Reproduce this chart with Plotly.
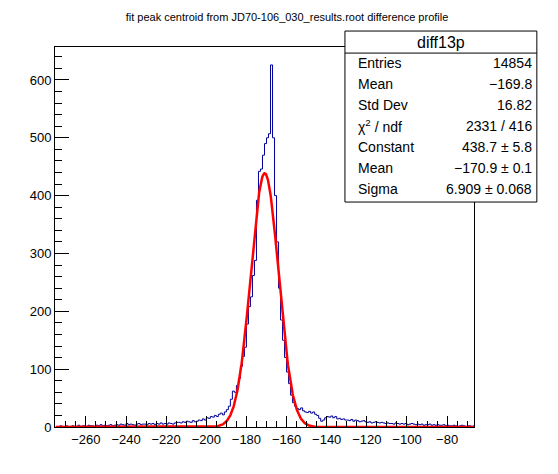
#!/usr/bin/env python3
"""
Peak centroid difference histogram (diff13p) with gaussian fit, ROOT style.
"""

import numpy as np
import plotly.graph_objects as go

# histogram binning (1 unit bins from -275 to -66)
bin_lo = -275
bin_width = 1.0

# bin contents, read bin by bin from the picture
counts_left_tail = [
    1, 0, 2, 1, 1, 2, 0, 1, 2, 1, 1, 3, 1, 2,
    2, 1, 3, 2, 2, 1, 3, 2, 4, 2, 3, 2, 3, 4, 2, 3,
    4, 3, 5, 4, 3, 6, 4, 5, 4, 3, 5, 6, 4, 5, 5, 4, 6,
    5, 6, 4, 6, 5, 7, 5, 6, 5, 7, 6, 5, 7, 8,
    8, 7, 9, 8, 10, 9, 8, 11, 9, 10, 12, 11,
    14, 12, 16, 15, 18, 17, 20, 18, 22, 24, 21, 26, 30,
]
counts_peak = [
    36, 48, 62, 60, 72, 84, 105, 122, 138, 178, 208, 225, 262, 288,
    392, 442, 446, 470, 490, 500, 507, 626, 500, 400, 320, 240, 185,
    150, 120, 95, 75, 55, 42, 36, 32,
]
counts_right_tail = [
    30, 33, 28, 26, 25, 27, 24, 26, 22, 20, 15, 10, 12, 16,
    18, 17, 19, 16, 18, 14, 15, 13, 14, 12,
    12, 11, 13, 10, 12, 11, 9, 10, 11, 9,
    8, 9, 7, 8, 9, 8, 7, 8, 7, 6,
    7, 6, 6, 5, 7, 6, 5, 6, 5, 6, 4, 5, 6, 5, 4, 5,
    4, 5, 3, 4, 4, 5, 3, 4, 3, 4, 3, 3, 4, 2,
    3, 2, 2, 3, 2, 1, 2, 3, 2, 1, 2, 2, 1, 2,
]
counts = counts_left_tail + counts_peak + counts_right_tail

# fit parameters shown in the stats box
fit_constant = 438.7
fit_mean = -170.9
fit_sigma = 6.909

stats_labels = ['Entries', 'Mean', 'Std Dev', 'χ<sup>2</sup> / ndf',
                'Constant', 'Mean', 'Sigma']
stats_values = ['14854', '−169.8', '16.82', '2331 / 416',
                '438.7 ± 5.8', '−170.9 ± 0.1', '6.909 ± 0.068']

FONT = 'Liberation Sans, Arial, Helvetica, sans-serif'


def main():
    edges = bin_lo + bin_width * np.arange(len(counts) + 1)
    step_y = counts + [counts[-1]]

    fig = go.Figure()

    # histogram outline
    fig.add_trace(go.Scatter(
        x=edges, y=step_y, mode='lines',
        line=dict(color='#000099', width=1, shape='hv'),
        showlegend=False, hoverinfo='skip'
    ))

    # gaussian fit curve
    xf = np.linspace(edges[0], edges[-1], 1200)
    yf = fit_constant * np.exp(-0.5 * ((xf - fit_mean) / fit_sigma) ** 2)
    fig.add_trace(go.Scatter(
        x=xf, y=yf, mode='lines',
        line=dict(color='#ff0000', width=2.5),
        showlegend=False, hoverinfo='skip'
    ))

    # page body adds an 8px offset, margins compensate for it
    fig.update_layout(
        width=558, height=474,
        margin=dict(l=47, r=92, t=39, b=55),
        paper_bgcolor='white', plot_bgcolor='white',
        font=dict(family=FONT, size=13, color='black'),
        title=dict(
            text='fit peak centroid from JD70-106_030_results.root difference profile',
            x=0.5, xanchor='center', y=0.981, yanchor='middle',
            font=dict(size=11, family=FONT, color='black')
        ),
    )

    fig.update_xaxes(
        range=[-275.4, -66.6],
        showline=True, linecolor='black', linewidth=1, mirror=True,
        showgrid=False, zeroline=False,
        ticks='inside', ticklen=11, tickcolor='black',
        tick0=0, dtick=20,
        minor=dict(ticks='inside', ticklen=6, tickcolor='black', dtick=5, showgrid=False),
        tickfont=dict(size=13, family=FONT),
    )
    fig.update_yaxes(
        range=[0, 657],
        showline=True, linecolor='black', linewidth=1, mirror=True,
        showgrid=False, zeroline=False,
        ticks='inside', ticklen=14, tickcolor='black',
        tick0=0, dtick=100,
        minor=dict(ticks='inside', ticklen=7, tickcolor='black', dtick=20, showgrid=False),
        tickfont=dict(size=13, family=FONT),
    )

    # stats box
    bx0, bx1 = 0.692, 1.150
    by0, by1 = 0.592, 1.042
    fig.add_shape(type='rect', xref='paper', yref='paper',
                  x0=bx0, x1=bx1, y0=by0, y1=by1,
                  line=dict(color='black', width=1), fillcolor='white', layer='above')
    fig.add_shape(type='line', xref='paper', yref='paper',
                  x0=bx0, x1=bx1, y0=0.984, y1=0.984,
                  line=dict(color='black', width=1), layer='above')
    fig.add_annotation(xref='paper', yref='paper', x=(bx0 + bx1) / 2, y=1.013,
                       text='diff13p', showarrow=False, xanchor='center', yanchor='middle',
                       font=dict(size=16, family=FONT, color='black'))
    row_y0 = 0.958
    row_step = 0.0553
    for i, (lab, val) in enumerate(zip(stats_labels, stats_values)):
        ry = row_y0 - i * row_step
        fig.add_annotation(xref='paper', yref='paper', x=0.719, y=ry, text=lab,
                           showarrow=False, xanchor='left', yanchor='middle',
                           font=dict(size=14, family=FONT, color='black'))
        fig.add_annotation(xref='paper', yref='paper', x=1.143, y=ry, text=val,
                           showarrow=False, xanchor='right', yanchor='middle',
                           font=dict(size=14, family=FONT, color='black'))

    fig.write_html('out.html')


if __name__ == '__main__':
    main()
